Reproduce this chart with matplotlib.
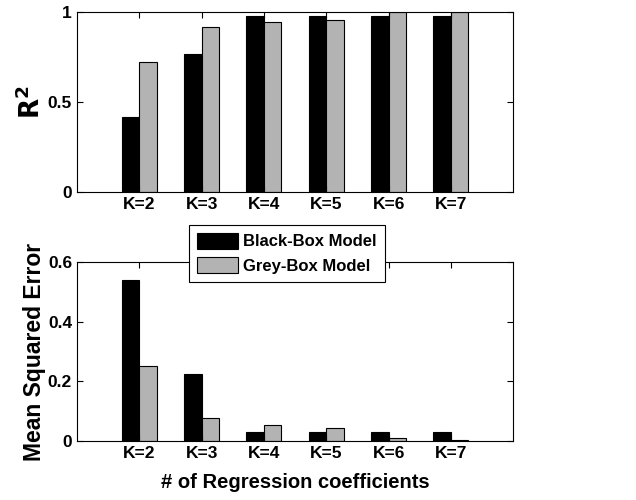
import matplotlib
matplotlib.use('Agg')
import matplotlib.pyplot as plt
import numpy as np

plt.rcParams['font.family'] = ['Liberation Sans', 'DejaVu Sans']
plt.rcParams['font.weight'] = 'bold'

labels = ['K=2', 'K=3', 'K=4', 'K=5', 'K=6', 'K=7']
r2_black = [0.418, 0.765, 0.978, 0.978, 0.978, 0.978]
r2_grey = [0.724, 0.915, 0.946, 0.955, 1.0, 1.0]
mse_black = [0.540, 0.223, 0.029, 0.029, 0.029, 0.029]
mse_grey = [0.251, 0.078, 0.054, 0.044, 0.009, 0.004]

black = 'black'
grey = '#b3b3b3'
w = 0.28

def style(ax, yticks, ylim):
    ax.set_xlim(0, 7)
    ax.set_ylim(*ylim)
    ax.set_xticks(np.arange(1, 7))
    ax.set_xticklabels(labels, fontsize=12.5, fontweight='bold')
    ax.set_yticks(yticks)
    ax.set_yticklabels(['%g' % t for t in yticks], fontsize=12.5, fontweight='bold')
    ax.tick_params(direction='in', top=True, right=True, length=4, width=0.8)
    for sp in ax.spines.values():
        sp.set_linewidth(0.8)

fig = plt.figure(figsize=(6.36, 5.0), dpi=100)
x = np.arange(1, 7)

ax1 = fig.add_axes([0.121, 0.616, 0.686, 0.36])
ax1.bar(x - w / 2, r2_black, w, color=black, edgecolor='black', linewidth=0.8)
ax1.bar(x + w / 2, r2_grey, w, color=grey, edgecolor='black', linewidth=0.8)
style(ax1, [0, 0.5, 1], (0, 1))
ax1.set_ylabel(r'$\mathbf{R^2}$', fontsize=19, labelpad=2)

ax2 = fig.add_axes([0.121, 0.118, 0.686, 0.358])
b1 = ax2.bar(x - w / 2, mse_black, w, color=black, edgecolor='black', linewidth=0.8,
             label='Black-Box Model')
b2 = ax2.bar(x + w / 2, mse_grey, w, color=grey, edgecolor='black', linewidth=0.8,
             label='Grey-Box Model')
style(ax2, [0, 0.2, 0.4, 0.6], (0, 0.6))
ax2.set_ylabel('Mean Squared Error', fontsize=16.5, fontweight='bold', labelpad=1)
ax2.set_xlabel('# of Regression coefficients', fontsize=14.5, fontweight='bold', labelpad=9)

leg = fig.legend(handles=[b1, b2], loc='upper left', bbox_to_anchor=(0.297, 0.551),
                 fancybox=False, edgecolor='black', framealpha=1,
                 handlelength=2.45, handleheight=1.1, borderpad=0.5,
                 labelspacing=0.45, handletextpad=0.3, borderaxespad=0,
                 prop={'size': 12, 'weight': 'bold'})
leg.get_frame().set_linewidth(0.8)

plt.savefig('out.png', dpi=100)
